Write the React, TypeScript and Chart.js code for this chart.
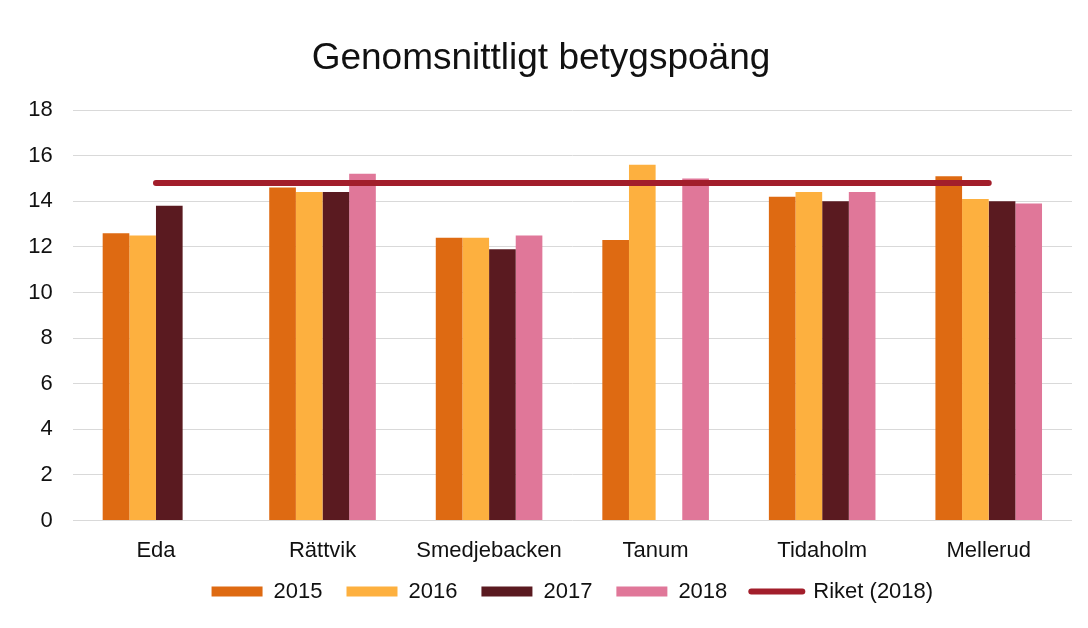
import React, { useEffect, useRef } from "react";
import { Chart, registerables } from "chart.js";

Chart.register(...registerables);

const categories = ["Eda", "Rättvik", "Smedjebacken", "Tanum", "Tidaholm", "Mellerud"];
const v2015 = [12.6, 14.6, 12.4, 12.3, 14.2, 15.1];
const v2016 = [12.5, 14.4, 12.4, 15.6, 14.4, 14.1];
const v2017 = [13.8, 14.4, 11.9, null, 14.0, 14.0];
const v2018 = [null, 15.2, 12.5, 15.0, 14.4, 13.9];
const riket = [14.8, 14.8, 14.8, 14.8, 14.8, 14.8];
const yTicksMax = 18;
const yStep = 2;

const FONT = "'Liberation Sans', Arial, sans-serif";

export default function App() {
  const ref = useRef<HTMLCanvasElement | null>(null);
  useEffect(() => {
    if (!ref.current) return;
    const barCommon = { categoryPercentage: 0.64, barPercentage: 1, borderWidth: 0, order: 1 };
    const chart = new Chart(ref.current, {
      type: "bar",
      data: {
        labels: categories,
        datasets: [
          { label: "2015", data: v2015, backgroundColor: "#DE6A12", ...barCommon },
          { label: "2016", data: v2016, backgroundColor: "#FDB03F", ...barCommon },
          { label: "2017", data: v2017, backgroundColor: "#5A1A20", ...barCommon },
          { label: "2018", data: v2018, backgroundColor: "#E07799", ...barCommon },
          {
            type: "line",
            label: "Riket (2018)",
            data: riket,
            borderColor: "#A21E2B",
            backgroundColor: "#A21E2B",
            borderWidth: 6,
            borderCapStyle: "round",
            pointRadius: 0,
            pointHoverRadius: 0,
            order: 0,
          } as any,
        ],
      },
      options: {
        animation: false,
        responsive: true,
        maintainAspectRatio: false,
        layout: { padding: { left: 10, right: 16, top: 0, bottom: 15.4 } },
        plugins: {
          title: {
            display: true,
            text: "Genomsnittligt betygspoäng",
            color: "#111",
            font: { family: FONT, size: 37, weight: "normal" },
            padding: { top: 37, bottom: 28.6 },
          },
          legend: {
            position: "bottom",
            fullSize: false,
            labels: {
              color: "#111",
              font: { family: FONT, size: 22 },
              usePointStyle: true,
              pointStyleWidth: 51,
              boxHeight: 10,
              padding: 24,
              sort: (a: any, b: any) => a.datasetIndex - b.datasetIndex,
              generateLabels: (c: any) => {
                const items = Chart.defaults.plugins.legend.labels.generateLabels(c);
                return items.map((it: any) => {
                  if (it.text === "Riket (2018)") {
                    return { ...it, pointStyle: "line", lineWidth: 6, lineCap: "round", strokeStyle: "#A21E2B", fillStyle: "#A21E2B" };
                  }
                  return { ...it, pointStyle: "rect", lineWidth: 0 };
                });
              },
            },
          },
          tooltip: { enabled: false },
        },
        scales: {
          x: {
            grid: { display: false },
            border: { display: false },
            ticks: { color: "#111", font: { family: FONT, size: 22 }, padding: 9, maxRotation: 0 },
            afterFit: (s: any) => {
              s.height = 36;
              s._computeLabelArea = () => undefined;
            },
          },
          y: {
            min: 0,
            max: yTicksMax,
            ticks: { stepSize: yStep, color: "#111", font: { family: FONT, size: 22 }, padding: 20 },
            grid: { color: "#d9d9d9", lineWidth: 1, drawTicks: false },
            border: { display: false },
            afterFit: (s: any) => {
              s.width = 62.7;
            },
          },
        },
      },
    });
    return () => chart.destroy();
  }, []);
  return (
    <div style={{ position: "fixed", left: 0, top: 0, width: 1088, height: 628, background: "#fff" }}>
      <canvas ref={ref} />
    </div>
  );
}
